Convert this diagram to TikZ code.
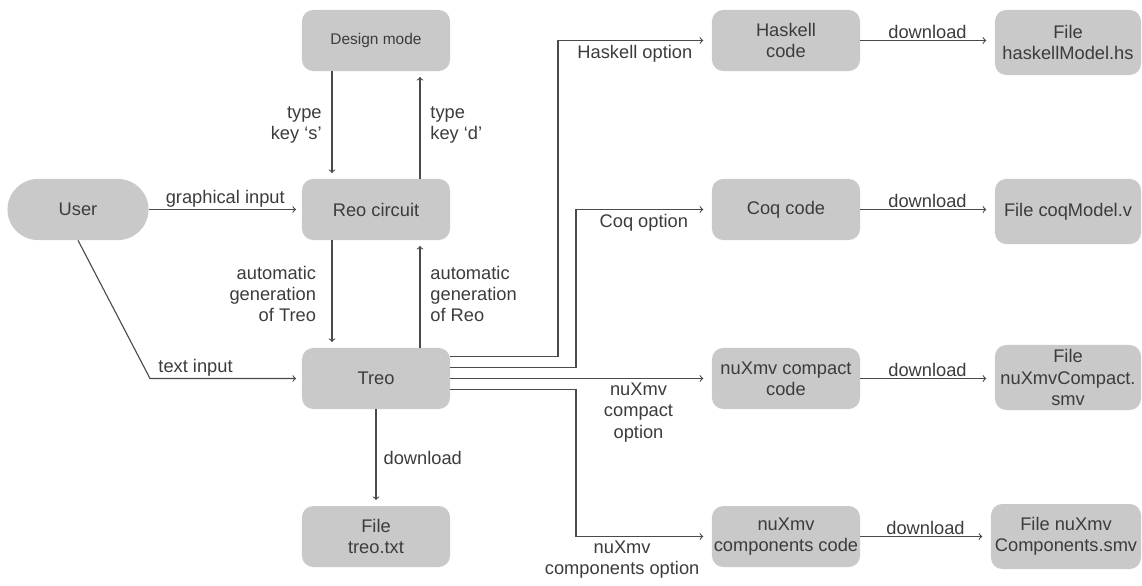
\documentclass[tikz,border=0pt]{standalone}
\usepackage{fontspec}
\setmainfont{Liberation Sans}
\definecolor{boxgray}{HTML}{C9C9C9}
\definecolor{txtgray}{HTML}{3C3C3C}
\definecolor{linegray}{HTML}{4A4A4A}

\begin{document}
\begin{tikzpicture}[
  x=0.025cm, y=-0.025cm,
  every node/.style={inner sep=1pt, text=txtgray, font=\fontsize{13}{15}\selectfont},
  box/.style={fill=boxgray, rounded corners=8pt, minimum width=3.7cm, minimum height=1.525cm, align=center},
  pill/.style={box, rounded corners=0.76cm, minimum width=3.525cm},
  filebox/.style={box, minimum width=3.65cm, minimum height=1.625cm},
  % thin gray connectors with the plain open tip
  arrow/.style={draw=linegray, line width=0.8pt, ->, shorten >=4pt},
  farrow/.style={arrow, shorten >=6pt}]

  \useasboundingbox (0,0) rectangle (1142,585);

  % vertices
  \node[box, font=\fontsize{11}{13}\selectfont] (design) at (376,40.5) {Design mode};
  \node[box]  (reo)     at (376,209.5) {Reo circuit};
  \node[pill] (user)    at (78,209.5)  {User};
  \node[box]  (treo)    at (376,378.5) {Treo};
  \node[box]  (treotxt) at (376,536.5) {File\\treo.txt};

  \node[box] (haskell) at (786,40.5)  {Haskell\\code};
  \node[box] (coq)     at (786,209.5) {Coq code};
  \node[box] (compact) at (786,378.5) {nuXmv compact\\code};
  \node[box] (comps)   at (786,536.5) {nuXmv\\components code};

  \node[filebox] (hsfile)      at (1068,42.5)  {File\\haskellModel.hs};
  \node[filebox] (coqfile)     at (1068,211.5) {File coqModel.v};
  \node[filebox] (compactfile) at (1068,377.5) {File\\nuXmvCompact.\\smv};
  \node[filebox, minimum width=3.75cm] (compsfile) at (1066,536.5) {File nuXmv\\Components.smv};

  % bends
  \coordinate (tbend)    at (150,378.5);
  \coordinate (hsbend)   at (558,40.5);
  \coordinate (coqbend)  at (576,209.5);
  \coordinate (compbend) at (576,536.5);

  % design mode <-> reo circuit
  \draw[arrow] ([xshift=-1.1cm]design.south) -- node[left=6pt, align=right] {type\\key ‘s’} ([xshift=-1.1cm]reo.north);
  \draw[arrow] ([xshift=1.1cm]reo.north) -- node[right=6pt, align=left] {type\\key ‘d’} ([xshift=1.1cm]design.south);

  % reo circuit <-> treo
  \draw[arrow] ([xshift=-1.1cm]reo.south) -- node[left=10pt, align=right] {automatic\\generation\\of Treo} ([xshift=-1.1cm]treo.north);
  \draw[arrow] ([xshift=1.1cm]treo.north) -- node[right=6pt, align=left] {automatic\\generation\\of Reo} ([xshift=1.1cm]reo.south);

  % user input
  \draw[arrow] (user.east) -- node[above] {graphical input} (reo.west);
  \draw[arrow] (user.south) -- (tbend) -- node[above, pos=0.3] {text input} (treo.west);

  % treo outputs
  \draw[arrow] (treo.south) -- node[right=4pt] {download} (treotxt.north);
  \draw[farrow] ([yshift=0.54cm]treo.east) -| (hsbend) -- node[below=2pt] {Haskell option} (haskell.west);
  \draw[farrow] ([yshift=0.28cm]treo.east) -| (coqbend) -- node[below=2pt] {Coq option} (coq.west);
  \draw[farrow] (treo.east) -- node[below=2pt, pos=0.72, align=center] {nuXmv\\compact\\option} (compact.west);
  \draw[farrow] ([yshift=-0.27cm]treo.east) -| (compbend) -- node[below=2pt, pos=0.34, align=center] {nuXmv\\components option} (comps.west);

  % downloads
  \draw[farrow] (haskell.east) -- node[above] {download} (haskell.east -| hsfile.west);
  \draw[farrow] (coq.east) -- node[above] {download} (coq.east -| coqfile.west);
  \draw[farrow] (compact.east) -- node[above] {download} (compact.east -| compactfile.west);
  \draw[farrow] (comps.east) -- node[above] {download} (comps.east -| compsfile.west);
\end{tikzpicture}
\end{document}
